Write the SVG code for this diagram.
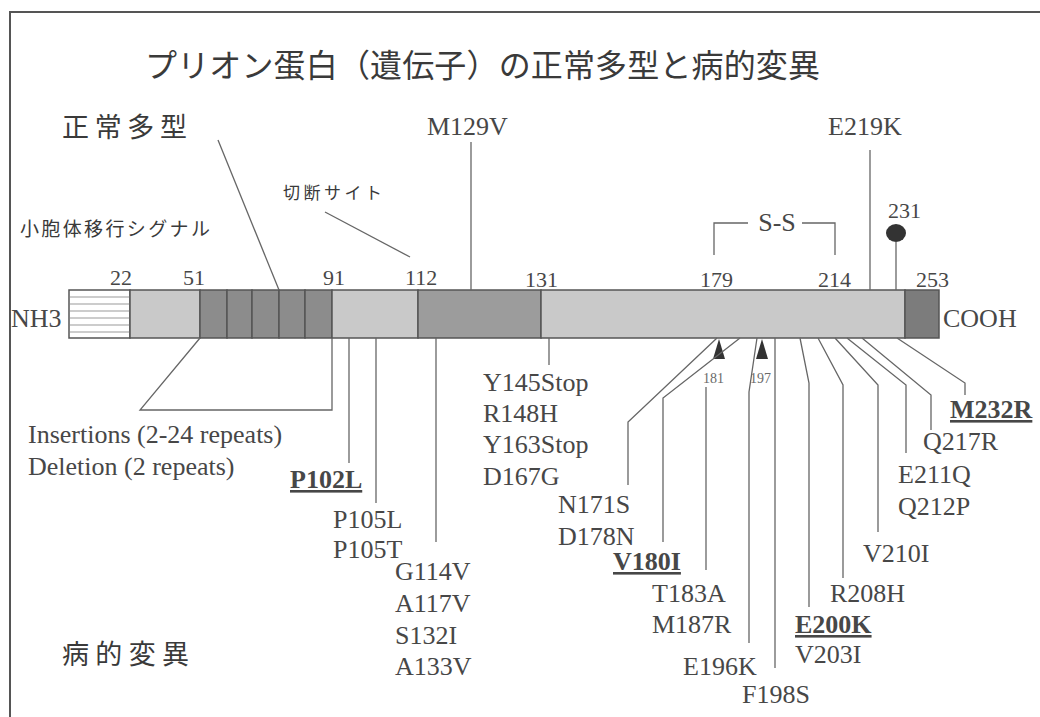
<svg xmlns="http://www.w3.org/2000/svg" width="1040" height="717" viewBox="0 0 1040 717">
<style>
.t{font-family:"Liberation Serif","Times New Roman",serif;fill:#474747;font-size:26px}
.b{font-weight:bold;text-decoration:underline}
.n{font-family:"Liberation Serif","Times New Roman",serif;fill:#474747;font-size:22px}
.s{font-family:"Liberation Serif","Times New Roman",serif;fill:#6a6a6a;font-size:14px}
.j{font-family:"Noto Sans CJK JP","Noto Sans CJK SC",sans-serif;fill:#3a3a3a}
.c{fill:none;stroke:#666;stroke-width:1.3}
.seg{stroke:#555;stroke-width:1.5}
.lt{fill:#c9c9c9}
.dk{fill:#8c8c8c}
.md{fill:#9c9c9c}
.ed{fill:#7c7c7c}
</style>
<rect width="1040" height="717" fill="#fff"/>
<g id="frame"><path d="M10,717 V12 H1040" fill="none" stroke="#555" stroke-width="2"/></g>
<g id="title"><text class="j" x="145" y="77" font-size="32" textLength="675" lengthAdjust="spacing">プリオン蛋白（遺伝子）の正常多型と病的変異</text></g>
<g id="normal-label"><text class="j" x="62" y="137" font-size="27" textLength="125" lengthAdjust="spacing">正常多型</text></g>
<g id="patho-label"><text class="j" x="62" y="664" font-size="27" textLength="127" lengthAdjust="spacing">病的変異</text></g>
<g id="signal-label"><text class="j" x="20" y="236" font-size="19" textLength="190" lengthAdjust="spacing">小胞体移行シグナル</text></g>
<g id="cleavage-label"><text class="j" x="283" y="199" font-size="17" textLength="99" lengthAdjust="spacing">切断サイト</text></g>

<g id="bar">
<rect x="69" y="290" width="61" height="48" fill="#fff" class="seg"/>
<g stroke="#999" stroke-width="1.2">
<line x1="70" y1="297" x2="130" y2="297"/><line x1="70" y1="304" x2="130" y2="304"/>
<line x1="70" y1="311" x2="130" y2="311"/><line x1="70" y1="318" x2="130" y2="318"/>
<line x1="70" y1="325" x2="130" y2="325"/><line x1="70" y1="332" x2="130" y2="332"/>
</g>
<rect x="130" y="290" width="70" height="48" class="lt seg"/>
<rect x="200" y="290" width="27" height="48" class="dk seg"/>
<rect x="227" y="290" width="25" height="48" class="dk seg"/>
<rect x="252" y="290" width="27" height="48" class="dk seg"/>
<rect x="279" y="290" width="26" height="48" class="dk seg"/>
<rect x="305" y="290" width="27" height="48" class="dk seg"/>
<rect x="332" y="290" width="86" height="48" class="lt seg"/>
<rect x="418" y="290" width="123" height="48" class="md seg"/>
<rect x="541" y="290" width="364" height="48" class="lt seg"/>
<rect x="905" y="290" width="34" height="48" class="ed seg"/>
</g>
<g id="ends">
<text class="t" x="11" y="327">NH3</text>
<text class="t" x="943" y="327">COOH</text>
</g>
<g id="positions">
<text class="n" x="110" y="285">22</text>
<text class="n" x="183" y="285">51</text>
<text class="n" x="323" y="285">91</text>
<text class="n" x="405" y="285">112</text>
<text class="n" x="525" y="287">131</text>
<text class="n" x="700" y="287">179</text>
<text class="n" x="818" y="287">214</text>
<text class="n" x="916" y="287">253</text>
<text class="n" x="888" y="218">231</text>
<text class="s" x="703" y="383">181</text>
<text class="s" x="750" y="383">197</text>
</g>
<g id="ss">
<text class="t" x="777" y="231" text-anchor="middle" font-size="24">S-S</text>
</g>
<g id="glyco">
<ellipse cx="896" cy="233" rx="10" ry="9" fill="#333"/>
</g>
<g id="markers" fill="#333">
<polygon points="719,339 713,359 725,359"/>
<polygon points="762,339 756,359 768,359"/>
</g>

<g id="connectors" class="c">
<polyline points="714,255 714,223 748,223"/>
<polyline points="802,223 835,223 835,255"/>
<line x1="896" y1="242" x2="896" y2="290"/>
<line x1="471" y1="142" x2="471" y2="290"/>
<line x1="870" y1="150" x2="870" y2="290"/>
<line x1="218" y1="140" x2="279" y2="290"/>
<line x1="325" y1="212" x2="410" y2="257"/>
<polyline points="200,338 140,410 332,410 332,338"/>
<line x1="349" y1="338" x2="349" y2="463"/>
<line x1="376" y1="338" x2="376" y2="503"/>
<line x1="436" y1="338" x2="436" y2="542"/>
<line x1="549" y1="338" x2="549" y2="365"/>
<polyline points="717,338 628,422 628,485"/>
<polyline points="740,338 663,398 663,542"/>
<line x1="706" y1="387" x2="706" y2="570"/>
<polyline points="757,338 749,392 749,643"/>
<line x1="775" y1="338" x2="775" y2="668"/>
<polyline points="800,338 809,383 809,607"/>
<polyline points="818,338 843,385 843,578"/>
<polyline points="835,338 878,385 878,532"/>
<polyline points="847,338 906,385 906,453"/>
<polyline points="862,338 931,395 931,430"/>
<polyline points="897,338 965,383 965,395"/>
</g>

<g id="polymorphisms">
<text class="t" x="427" y="135">M129V</text>
<text class="t" x="828" y="135">E219K</text>
</g>
<g id="mutations">
<text class="t" x="28" y="443">Insertions (2-24 repeats)</text>
<text class="t" x="28" y="475">Deletion (2 repeats)</text>
<text class="t b" x="290" y="488">P102L</text>
<text class="t" x="333" y="528">P105L</text>
<text class="t" x="333" y="558">P105T</text>
<text class="t" x="395" y="580">G114V</text>
<text class="t" x="395" y="612">A117V</text>
<text class="t" x="395" y="644">S132I</text>
<text class="t" x="395" y="675">A133V</text>
<text class="t" x="483" y="391">Y145Stop</text>
<text class="t" x="483" y="422">R148H</text>
<text class="t" x="483" y="453">Y163Stop</text>
<text class="t" x="483" y="485">D167G</text>
<text class="t" x="558" y="513">N171S</text>
<text class="t" x="558" y="545">D178N</text>
<text class="t b" x="613" y="570">V180I</text>
<text class="t" x="652" y="602">T183A</text>
<text class="t" x="652" y="633">M187R</text>
<text class="t" x="683" y="675">E196K</text>
<text class="t" x="742" y="703">F198S</text>
<text class="t b" x="795" y="633">E200K</text>
<text class="t" x="795" y="663">V203I</text>
<text class="t" x="830" y="602">R208H</text>
<text class="t" x="863" y="562">V210I</text>
<text class="t" x="898" y="483">E211Q</text>
<text class="t" x="898" y="515">Q212P</text>
<text class="t" x="923" y="450">Q217R</text>
<text class="t b" x="950" y="418">M232R</text>
</g>
</svg>
